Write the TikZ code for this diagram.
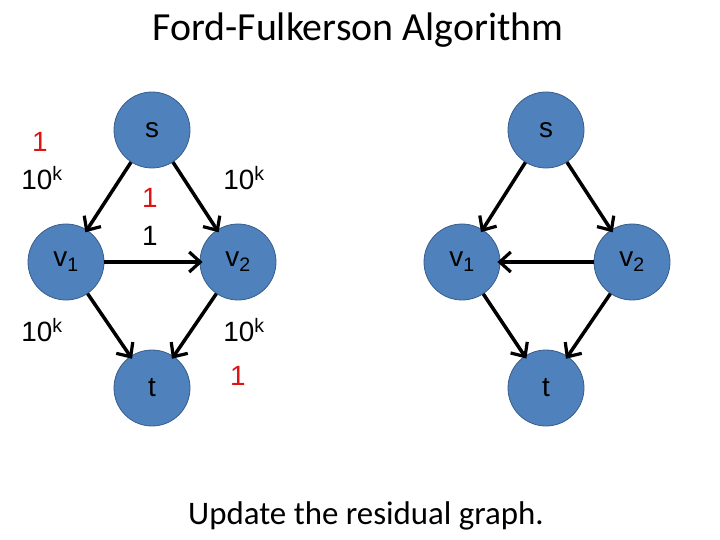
\documentclass[tikz,border=0pt]{standalone}
\usepackage{fontspec}
\setmainfont{Carlito}
\newfontfamily\arialf{Liberation Sans}
\usetikzlibrary{arrows.meta}
\begin{document}
\begin{tikzpicture}[x=1bp,y=-1bp,
  vert/.style={circle,fill={rgb,255:red,79;green,129;blue,189},draw={rgb,255:red,56;green,93;blue,138},line width=0.8bp,minimum size=76bp,inner sep=0pt,font=\arialf\fontsize{28}{30}\selectfont},
  edge/.style={line width=3.5bp,-{Straight Barb[length=11bp,width=20bp,line width=3.2bp]},shorten >=-3bp},
  lab/.style={font=\arialf\fontsize{28}{30}\selectfont,inner sep=0pt},
  red/.style={text={rgb,255:red,220;green,20;blue,20}}]
\useasboundingbox (0,0) rectangle (720,540);
\node[font=\fontsize{40}{44}\selectfont] (title) at (358,30) {Ford-Fulkerson Algorithm};
\node[font=\fontsize{33}{36}\selectfont] (cap) at (366,516) {Update the residual graph.};
% left graph
\node[vert] (s) at (152,130) {s};
\node[vert] (v1) at (66,262) {v\textsubscript{1}};
\node[vert] (v2) at (238,262) {v\textsubscript{2}};
\node[vert] (t) at (152,388) {t};
\draw[edge] (s) -- (v1);
\draw[edge] (s) -- (v2);
\draw[edge] (v1) -- (v2);
\draw[edge] (v1) -- (t);
\draw[edge] (v2) -- (t);
\node[lab,red] (l1) at (40,142) {1};
\node[lab] (l2) at (42,178) {10\textsuperscript{k}};
\node[lab,red] (l3) at (150,198) {1};
\node[lab] (l4) at (150,236) {1};
\node[lab] (l5) at (244,178) {10\textsuperscript{k}};
\node[lab] (l6) at (42,330) {10\textsuperscript{k}};
\node[lab] (l7) at (244,330) {10\textsuperscript{k}};
\node[lab,red] (l8) at (238,376) {1};
% right graph
\node[vert] (rs) at (546,130) {s};
\node[vert] (rv1) at (462,262) {v\textsubscript{1}};
\node[vert] (rv2) at (632,262) {v\textsubscript{2}};
\node[vert] (rt) at (546,388) {t};
\draw[edge] (rs) -- (rv1);
\draw[edge] (rs) -- (rv2);
\draw[edge] (rv2) -- (rv1);
\draw[edge] (rv1) -- (rt);
\draw[edge] (rv2) -- (rt);
\end{tikzpicture}
\end{document}
